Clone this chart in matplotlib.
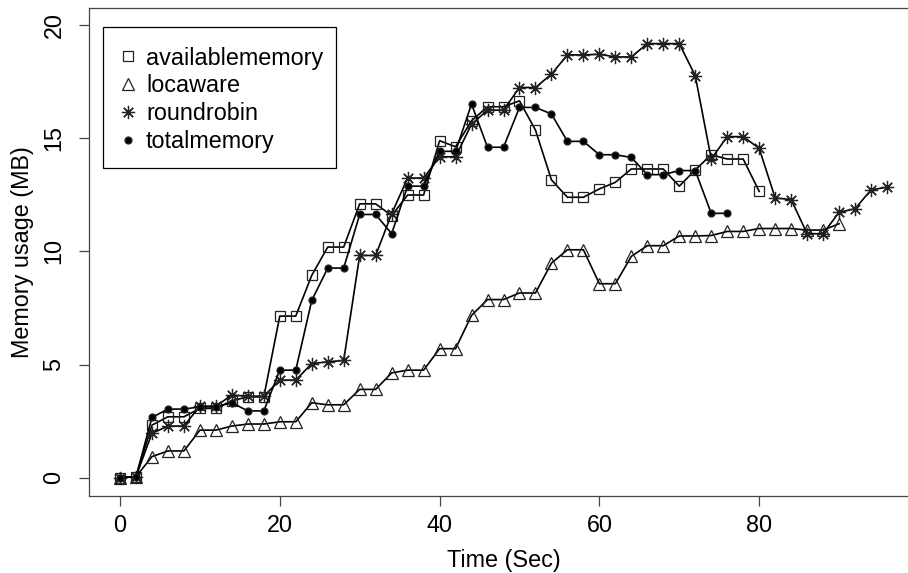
import numpy as np
import matplotlib.pyplot as plt
from matplotlib.lines import Line2D
from matplotlib.patches import Rectangle

# Memory usage readings, one every 2 seconds
avail_mem = [0, 0.04, 2.32, 2.69, 2.69, 3.06, 3.06, 3.4, 3.57, 3.57,
             7.14, 7.14, 8.94, 10.19, 10.19, 12.1, 12.1, 11.58, 12.49, 12.49,
             14.89, 14.62, 15.77, 16.39, 16.39, 16.65, 15.36, 13.16, 12.39, 12.39,
             12.76, 13.05, 13.64, 13.64, 13.64, 12.88, 13.6, 14.27, 14.08, 14.08,
             12.65]
locaware = [0, 0.04, 0.93, 1.18, 1.18, 2.1, 2.1, 2.28, 2.37, 2.37,
            2.47, 2.47, 3.31, 3.22, 3.22, 3.9, 3.9, 4.63, 4.75, 4.75,
            5.7, 5.7, 7.17, 7.87, 7.87, 8.16, 8.16, 9.48, 10.07, 10.07,
            8.57, 8.57, 9.78, 10.25, 10.25, 10.68, 10.68, 10.7, 10.88, 10.88,
            11.01, 11.01, 11.01, 10.94, 10.94, 11.22]
roundrobin = [0, 0.04, 1.96, 2.28, 2.28, 3.16, 3.16, 3.65, 3.6, 3.6,
              4.31, 4.31, 5.04, 5.12, 5.18, 9.82, 9.82, 11.66, 13.24, 13.24,
              14.18, 14.18, 15.62, 16.24, 16.24, 17.24, 17.24, 17.83, 18.68, 18.68,
              18.71, 18.59, 18.59, 19.18, 19.18, 19.18, 17.76, 14.08, 15.07, 15.07,
              14.55, 12.36, 12.29, 10.78, 10.78, 11.73, 11.88, 12.72, 12.83]
total_mem = [0, 0.04, 2.66, 3.03, 3.03, 3.13, 3.13, 3.31, 2.95, 2.95,
             4.75, 4.75, 7.83, 9.26, 9.26, 11.63, 11.63, 10.78, 12.88, 12.88,
             14.42, 14.42, 16.51, 14.6, 14.6, 16.36, 16.36, 16.07, 14.86, 14.86,
             14.27, 14.27, 14.15, 13.39, 13.39, 13.57, 13.57, 11.68, 11.68]

labels = ['availablememory', 'locaware', 'roundrobin', 'totalmemory']
series = [avail_mem, locaware, roundrobin, total_mem]

plt.rcParams['font.family'] = ['Liberation Sans', 'DejaVu Sans']
fs = 16.8

# marker styles mimicking R's pch 0, 2, 8, 16
styles = [dict(marker='s', ms=6.8, mfc='none'),
          dict(marker='^', ms=8.2, mfc='none'),
          dict(marker=(8, 2, 0), ms=9.5),
          dict(marker='o', ms=5, mfc='black')]

fig = plt.figure(figsize=(9.08, 5.73), dpi=100)
ax = fig.add_axes([89.3/908, (573-496)/573, (917.7-89.3)/908, (496-8.3)/573])

for vals, st in zip(series, styles):
    t = np.arange(len(vals)) * 2
    ax.plot(t, vals, color='black', lw=1.2, mec='#222222', mew=0.9, **st)

ax.set_xlim(-3.84, 99.84)
ax.set_ylim(-0.81, 20.74)
ax.set_xticks([0, 20, 40, 60, 80])
ax.set_yticks([0, 5, 10, 15, 20])
ax.set_yticklabels(['0', '5', '10', '15', '20'], rotation=90, va='center')
ax.tick_params(direction='out', length=7.2, width=0.9, color='#444444',
               labelsize=fs)
ax.tick_params(axis='x', pad=5.5)
ax.tick_params(axis='y', pad=10)
for s in ax.spines.values():
    s.set_color('#444444')
    s.set_linewidth(0.9)
ax.spines['right'].set_visible(False)

fig.text(503.5/908, 1 - 560/573, 'Time (Sec)', fontsize=fs, ha='center', va='center')
fig.text(23/908, 1 - 252/573, 'Memory usage (MB)', fontsize=fs, ha='center',
         va='center', rotation=90)

# legend box drawn by hand, entries without frame
box = Rectangle((103.3/908, 1 - 167.7/573), (336 - 103.3)/908, (167.7 - 26.7)/573,
                transform=fig.transFigure, facecolor='white', edgecolor='black',
                lw=0.9, zorder=4, clip_on=False)
ax.add_patch(box)
handles = [Line2D([], [], ls='none', color='black', mec='#222222', mew=0.9, **st)
           for st in styles]
leg = ax.legend(handles, labels, loc='upper left',
                bbox_to_anchor=(116/908, 1 - 46.5/573), bbox_transform=fig.transFigure,
                fontsize=fs, frameon=False, handlelength=1.05, handletextpad=0.24,
                labelspacing=0.206, borderpad=0, borderaxespad=0)
leg.set_zorder(5)

plt.savefig('out.png', dpi=100)
